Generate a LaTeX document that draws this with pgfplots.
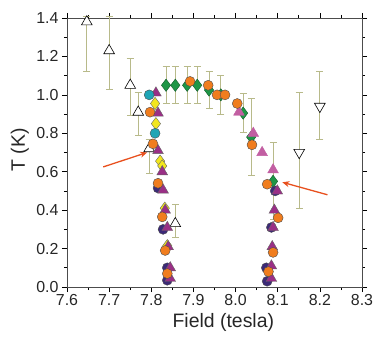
\documentclass[border=0pt]{standalone}
\usepackage{fontspec}
\setmainfont{Liberation Sans}
\usepackage{pgfplots}
\pgfplotsset{compat=1.18}
\usetikzlibrary{arrows.meta}

\definecolor{errc}{HTML}{B8BA8A}
\definecolor{orng}{HTML}{F07D1E}
\definecolor{teal}{HTML}{1FA5B5}
\definecolor{yelw}{HTML}{F2E61E}
\definecolor{gren}{HTML}{1E9646}
\definecolor{purp}{HTML}{9A2F86}
\definecolor{pink}{HTML}{C25FA2}
\definecolor{navy}{HTML}{3C2A78}
\definecolor{arrc}{HTML}{E8501E}

\begin{document}
\begin{tikzpicture}
\begin{axis}[
  scale only axis,
  width=295bp, height=269bp,
  xmin=7.6, xmax=8.3, ymin=0, ymax=1.4,
  xtick={7.6,7.7,...,8.3}, ytick={0,0.2,...,1.4},
  minor x tick num=1, minor y tick num=1,
  tick align=outside,
  major tick length=5bp, minor tick length=3bp,
  every tick/.style={black, line width=0.6pt},
  axis line style={black!70, line width=0.8pt},
  /pgf/number format/fixed, /pgf/number format/fixed zerofill,
  /pgf/number format/precision=1,
  /pgf/number format/assume math mode=true,
  tick label style={font=\fontsize{16}{16}\selectfont, text=black!85},
  xticklabel style={yshift=1bp},
  xlabel={Field (tesla)}, ylabel={T (K)},
  label style={font=\fontsize{19.5}{19.5}\selectfont, text=black!85},
  xlabel style={at={(axis description cs:0.53,-0.13)}, anchor=center},
  ylabel style={at={(axis description cs:-0.16,0.51)}, anchor=center},
  error bars/error bar style={errc, line width=1pt},
  error bars/error mark options={errc, rotate=90, mark size=3.5bp, line width=1pt},
  clip=false,
]
% open up-triangles
\addplot[only marks, mark=triangle*, mark size=6.2bp,
  mark options={fill=white, draw=black, line width=0.6pt},
  error bars/.cd, y dir=both, y explicit]
  table[x=x, y=y, y error plus=ep, y error minus=em] {
x y ep em
7.647 1.38 0.03 0.26
7.700 1.23 0.18 0.20
7.750 1.05 0.14 0.16
7.769 0.91 0.10 0.12
7.795 0.72 0.05 0.13
7.857 0.33 0.10 0.07
};
% open down-triangles
\addplot[only marks, mark=triangle*, mark size=6.2bp,
  mark options={rotate=180, fill=white, draw=black, line width=0.6pt},
  error bars/.cd, y dir=both, y explicit]
  table[x=x, y=y, y error plus=ep, y error minus=em] {
x y ep em
8.151 0.70 0.31 0.29
8.200 0.94 0.18 0.17
};
% green diamonds
\addplot[only marks, mark=diamond*, mark size=6.2bp,
  mark options={fill=gren, draw=gren!60!black, line width=0.4pt},
  error bars/.cd, y dir=both, y explicit]
  table[x=x, y=y, y error plus=ep, y error minus=em] {
x y ep em
7.835 1.05 0.10 0.095
7.857 1.05 0.10 0.095
7.885 1.05 0.10 0.095
7.909 1.05 0.10 0.095
7.937 1.025 0.095 0.095
7.965 1.00 0.10 0.10
8.018 0.905 0.10 0.10
8.037 0.78 0.20 0.20
8.089 0.55 0.20 0.20
};
% navy circles
\addplot[only marks, mark=*, mark size=5bp,
  mark options={fill=navy, draw=black!70, line width=0.4pt}]
  coordinates {(7.816,0.515) (7.828,0.30) (7.838,0.10) (7.838,0.035)
    (8.094,0.50) (8.085,0.31) (8.073,0.10) (8.075,0.03)};
% yellow diamonds
\addplot[only marks, mark=diamond*, mark size=6.2bp,
  mark options={fill=yelw, draw=black!60, line width=0.4pt}]
  coordinates {(7.809,0.955) (7.811,0.85) (7.821,0.655) (7.826,0.63)
    (7.832,0.41) (7.838,0.215)};
% purple triangles
\addplot[only marks, mark=triangle*, mark size=6.2bp,
  mark options={fill=purp, draw=black!60, line width=0.4pt}]
  coordinates {(7.811,1.01) (7.816,0.905) (7.816,0.71) (7.826,0.60)
    (7.828,0.505) (7.833,0.40) (7.838,0.31) (7.840,0.21) (7.845,0.10)
    (7.845,0.045)
    (8.099,0.50) (8.092,0.40) (8.089,0.31) (8.087,0.21) (8.085,0.11)
    (8.085,0.045)};
% pink triangles
\addplot[only marks, mark=triangle*, mark size=6.2bp,
  mark options={fill=pink, draw=pink}]
  coordinates {(8.008,0.91) (8.042,0.80) (8.063,0.70) (8.089,0.61)};
% teal circles
\addplot[only marks, mark=*, mark size=5bp,
  mark options={fill=teal, draw=black!70, line width=0.4pt}]
  coordinates {(7.795,1.00) (7.809,0.80)};
% orange circles
\addplot[only marks, mark=*, mark size=5bp,
  mark options={fill=orng, draw=black!70, line width=0.4pt}]
  coordinates {(7.797,0.91) (7.804,0.745) (7.816,0.54) (7.826,0.365)
    (7.833,0.19) (7.838,0.07)
    (7.892,1.07) (7.935,1.05) (7.956,1.00) (7.975,1.00) (8.004,0.955)
    (8.039,0.74) (8.075,0.535) (8.101,0.36) (8.089,0.18) (8.078,0.08)};
% arrows
\draw[arrc, line width=1.3pt, -{Stealth[length=7bp, width=6bp]}]
  (axis cs:7.686,0.625) -- (axis cs:7.79,0.70);
\draw[arrc, line width=1.3pt, -{Stealth[length=7bp, width=6bp]}]
  (axis cs:8.218,0.48) -- (axis cs:8.111,0.545);
\end{axis}
\pgfresetboundingbox
\path ([shift={(-67bp,-59bp)}]current axis.south west)
  rectangle ([shift={(20bp,18bp)}]current axis.north east);
\end{tikzpicture}
\end{document}
